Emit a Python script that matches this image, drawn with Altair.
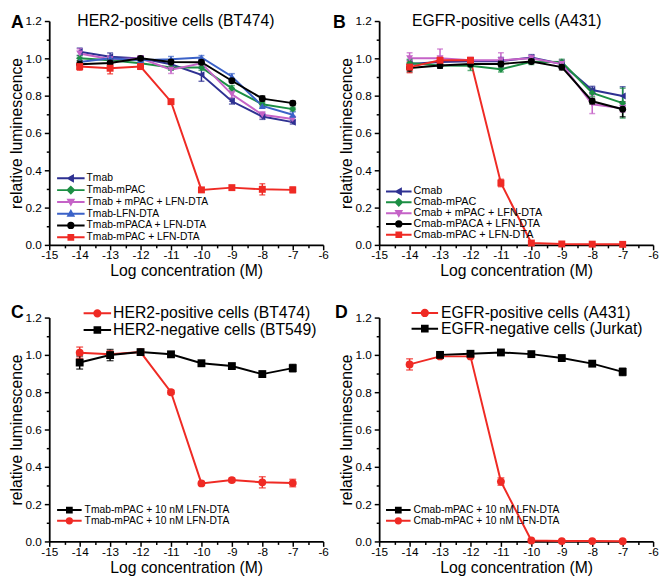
import altair as alt
import pandas as pd

FONT = "Liberation Sans"
CONC = [-14, -13, -12, -11, -10, -9, -8, -7]
X_MAJOR = [-15, -14, -13, -12, -11, -10, -9, -8, -7, -6]
X_MINOR = [-14.5, -13.5, -12.5, -11.5, -10.5, -9.5, -8.5, -7.5, -6.5]
Y_MAJOR = [0.0, 0.2, 0.4, 0.6, 0.8, 1.0, 1.2]
Y_MINOR = [0.1, 0.3, 0.5, 0.7, 0.9, 1.1]

NAVY, GREEN, PINK, BLUE, BLACK, RED = "#2e3192", "#1c8f44", "#c563c7", "#3b62c8", "#000000", "#ef2a24"

# ---------------- Panel A ----------------
A_TITLE = "HER2-positive cells (BT474)"
A_SERIES = ["Tmab", "Tmab-mPAC", "Tmab + mPAC + LFN-DTA", "Tmab-LFN-DTA",
            "Tmab-mPACA + LFN-DTA", "Tmab-mPAC + LFN-DTA"]
A_VALUES = [
    [1.035, 1.009, 1.000, 0.968, 0.912, 0.770, 0.688, 0.658],
    [1.000, 0.990, 0.974, 0.951, 0.951, 0.839, 0.754, 0.728],
    [1.026, 0.995, 1.000, 0.939, 0.974, 0.807, 0.698, 0.675],
    [0.980, 1.000, 0.990, 0.995, 1.005, 0.903, 0.745, 0.698],
    [0.968, 0.975, 1.000, 0.980, 0.979, 0.880, 0.784, 0.760],
    [0.956, 0.947, 0.956, 0.768, 0.295, 0.307, 0.298, 0.295],
]
A_ERRORS = [
    [0.020, 0.020, 0.010, 0.020, 0.035, 0.015, 0.015, 0.010],
    [0.015, 0.015, 0.010, 0.015, 0.015, 0.015, 0.010, 0.010],
    [0.025, 0.020, 0.010, 0.020, 0.015, 0.020, 0.015, 0.015],
    [0.020, 0.010, 0.010, 0.015, 0.010, 0.015, 0.010, 0.015],
    [0.020, 0.020, 0.010, 0.010, 0.010, 0.010, 0.015, 0.010],
    [0.020, 0.030, 0.010, 0.010, 0.010, 0.010, 0.030, 0.015],
]
A_COLORS = [NAVY, GREEN, PINK, BLUE, BLACK, RED]
A_SHAPES = ["triangle-left", "diamond", "triangle-down", "triangle-up", "circle", "square"]

# ---------------- Panel B ----------------
B_TITLE = "EGFR-positive cells (A431)"
B_SERIES = ["Cmab", "Cmab-mPAC", "Cmab + mPAC + LFN-DTA",
            "Cmab-mPACA + LFN-DTA", "Cmab-mPAC + LFN-DTA"]
B_VALUES = [
    [0.970, 0.980, 0.985, 0.985, 1.005, 0.970, 0.830, 0.798],
    [0.975, 0.962, 0.960, 0.942, 0.982, 0.980, 0.815, 0.760],
    [1.000, 1.000, 0.990, 0.990, 1.000, 0.970, 0.754, 0.732],
    [0.948, 0.962, 0.970, 0.970, 0.983, 0.953, 0.770, 0.727],
    [0.953, 0.990, 0.990, 0.332, 0.010, 0.005, 0.004, 0.003],
]
B_ERRORS = [
    [0.020, 0.020, 0.015, 0.020, 0.015, 0.020, 0.020, 0.050],
    [0.020, 0.015, 0.025, 0.015, 0.015, 0.015, 0.020, 0.080],
    [0.030, 0.050, 0.015, 0.040, 0.015, 0.020, 0.050, 0.020],
    [0.020, 0.015, 0.015, 0.015, 0.010, 0.015, 0.015, 0.040],
    [0.030, 0.015, 0.010, 0.020, 0.005, 0.004, 0.004, 0.004],
]
B_COLORS = [NAVY, GREEN, PINK, BLACK, RED]
B_SHAPES = ["triangle-left", "diamond", "triangle-down", "circle", "square"]

# ---------------- Panel C ----------------
C_SERIES = ["HER2-positive cells (BT474)", "HER2-negative cells (BT549)"]
C_VALUES = [
    [1.012, 1.003, 1.015, 0.800, 0.311, 0.329, 0.317, 0.313],
    [0.959, 0.999, 1.015, 1.003, 0.955, 0.940, 0.897, 0.929],
]
C_ERRORS = [
    [0.030, 0.020, 0.010, 0.010, 0.010, 0.010, 0.030, 0.020],
    [0.035, 0.030, 0.010, 0.010, 0.015, 0.010, 0.015, 0.020],
]
C_LABEL = "Tmab-mPAC + 10 nM LFN-DTA"

# ---------------- Panel D ----------------
D_SERIES = ["EGFR-positive cells (A431)", "EGFR-negative cells (Jurkat)"]
D_VALUES = [
    [0.949, 0.992, 0.992, 0.321, 0.005, 0.002, 0.002, 0.001],
    [None, 1.000, 1.006, 1.013, 1.004, 0.983, 0.953, 0.909],
]
D_ERRORS = [
    [0.030, 0.010, 0.010, 0.020, 0.005, 0.003, 0.003, 0.003],
    [None, 0.010, 0.010, 0.010, 0.010, 0.010, 0.010, 0.020],
]
D_LABEL = "Cmab-mPAC + 10 nM LFN-DTA"

PAIR_COLORS = [RED, BLACK]
PAIR_SHAPES = ["circle", "square"]


def long_df(series, values, errors):
    rows = []
    for s, vals, errs in zip(series, values, errors):
        for c, v, e in zip(CONC, vals, errs):
            if v is None:
                continue
            rows.append({"series": s, "conc": c, "value": v, "lo": v - e, "hi": v + e})
    return pd.DataFrame(rows)


def legend_path(shape, L, h):
    u = h / (L / 2.0)
    f = lambda v: f"{v:.3f}"
    line = "M-1,0H1"
    if shape == "circle":
        m = f"M{f(-u)},0A{f(u)},{f(u)} 0 1,0 {f(u)},0A{f(u)},{f(u)} 0 1,0 {f(-u)},0Z"
    elif shape == "square":
        s = u * 0.9
        m = f"M{f(-s)},{f(-s)}H{f(s)}V{f(s)}H{f(-s)}Z"
    elif shape == "diamond":
        d = u * 1.2
        m = f"M0,{f(-d)}L{f(d)},0L0,{f(d)}L{f(-d)},0Z"
    elif shape == "triangle-left":
        m = f"M{f(-u)},0L{f(u*0.8)},{f(-u)}L{f(u*0.8)},{f(u)}Z"
    elif shape == "triangle-down":
        m = f"M{f(-u)},{f(-u*0.8)}L{f(u)},{f(-u*0.8)}L0,{f(u)}Z"
    else:  # triangle-up
        m = f"M{f(-u)},{f(u*0.8)}L{f(u)},{f(u*0.8)}L0,{f(-u)}Z"
    return line + m


def legend_layer(order, colors, shapes, L, h, x, y, pitch, fsize, label_offset,
                 row_pad=0, label_expr=None):
    kw = dict(
        orient="none", legendX=x, legendY=y, title=None, direction="vertical",
        padding=0, symbolSize=L * L, symbolStrokeWidth=2, labelFontSize=fsize,
        labelFont=FONT, labelColor="black", labelOffset=label_offset,
        clipHeight=pitch, rowPadding=row_pad, labelLimit=400, labelBaseline="middle",
    )
    if label_expr is not None:
        kw["labelExpr"] = label_expr
    paths = [legend_path(s, L, h) for s in shapes]
    empty = pd.DataFrame({"series": pd.Series([], dtype=str)})
    return alt.Chart(empty).mark_point(filled=True, strokeWidth=2, size=L * L, opacity=1).encode(
        fill=alt.Fill("series:N", scale=alt.Scale(domain=order, range=colors), legend=alt.Legend(**kw)),
        stroke=alt.Stroke("series:N", scale=alt.Scale(domain=order, range=colors), legend=alt.Legend(**kw)),
        shape=alt.Shape("series:N", scale=alt.Scale(domain=order, range=paths), legend=alt.Legend(**kw)),
    )


AX = dict(domainColor="black", tickColor="black", domainWidth=1.8, tickWidth=1.5, grid=False)

X_MAJOR_AXIS = alt.Axis(orient="bottom", values=X_MAJOR, labelExpr="datum.value + ''",
                        tickSize=5, labelFontSize=12, labelFont=FONT, labelColor="black",
                        labelPadding=0, labelFlush=False, labelOverlap=False,
                        title="Log concentration (M)", titleFont=FONT, titleFontSize=16,
                        titleFontWeight="normal", titleColor="black", titleY=31.5,
                        titleBaseline="alphabetic", **AX)
Y_MAJOR_AXIS = alt.Axis(orient="left", values=Y_MAJOR, format=".1f", tickSize=5,
                        labelFontSize=12, labelFont=FONT, labelColor="black", labelPadding=3,
                        labelOverlap=False,
                        title="relative luminescence", titleFont=FONT, titleFontSize=16,
                        titleFontWeight="normal", titleColor="black", titleX=-28, titleY=114,
                        titleAngle=270, titleBaseline="alphabetic", titleAlign="center", **AX)
X_MINOR_AXIS = alt.Axis(orient="bottom", values=X_MINOR, labels=False, tickSize=3,
                        domain=False, title="", **AX)
Y_MINOR_AXIS = alt.Axis(orient="left", values=Y_MINOR, labels=False, tickSize=3,
                        domain=False, title="", **AX)

W, H = 279, 228


def panel(df, series, colors, shapes, msize, capsize, legends, texts):
    xs = alt.Scale(domain=[-15, -6], nice=False, zero=False)
    ys = alt.Scale(domain=[0, 1.2], nice=False, zero=False)

    def color():
        return alt.Color("series:N", scale=alt.Scale(domain=series, range=colors), legend=None)

    base = alt.Chart(df)
    lines = base.mark_line(strokeWidth=2).encode(
        x=alt.X("conc:Q", scale=xs, axis=X_MAJOR_AXIS),
        y=alt.Y("value:Q", scale=ys, axis=Y_MAJOR_AXIS),
        color=color(),
    )
    bars = base.mark_rule(strokeWidth=1.5).encode(
        x=alt.X("conc:Q", scale=xs, axis=None),
        y=alt.Y("lo:Q", scale=ys, axis=None), y2="hi:Q",
        color=color(),
    )
    cap_lo = base.mark_tick(orient="horizontal", size=capsize, thickness=1.5).encode(
        x=alt.X("conc:Q", scale=xs, axis=None),
        y=alt.Y("lo:Q", scale=ys, axis=None), color=color())
    cap_hi = base.mark_tick(orient="horizontal", size=capsize, thickness=1.5).encode(
        x=alt.X("conc:Q", scale=xs, axis=None),
        y=alt.Y("hi:Q", scale=ys, axis=None), color=color())
    points = base.mark_point(filled=True, size=msize, opacity=1).encode(
        x=alt.X("conc:Q", scale=xs, axis=X_MINOR_AXIS),
        y=alt.Y("value:Q", scale=ys, axis=Y_MINOR_AXIS),
        color=color(),
        shape=alt.Shape("series:N", scale=alt.Scale(domain=series, range=shapes), legend=None),
    )
    layers = [lines, bars, cap_lo, cap_hi, points] + legends
    for t, size, weight, align, px, py in texts:
        layers.append(
            alt.Chart(pd.DataFrame({"t": [t]})).mark_text(
                font=FONT, fontSize=size, fontWeight=weight, align=align,
                baseline="alphabetic", color="black"
            ).encode(x=alt.value(px), y=alt.value(py), text="t:N")
        )
    return alt.layer(*layers).resolve_scale(
        color="independent", fill="independent", stroke="independent", shape="independent"
    ).resolve_axis(x="independent", y="independent").properties(width=W, height=H)


dfA = long_df(A_SERIES, A_VALUES, A_ERRORS)
dfB = long_df(B_SERIES, B_VALUES, B_ERRORS)
dfC = long_df(C_SERIES, C_VALUES, C_ERRORS)
dfD = long_df(D_SERIES, D_VALUES, D_ERRORS)

pA = panel(dfA, A_SERIES, A_COLORS, A_SHAPES, 50, 6,
           [legend_layer(A_SERIES, A_COLORS, A_SHAPES, 28, 2.7, 7, 154.6, 11.2, 10.5, 1, -2.8)],
           [(A_TITLE, 16, "normal", "center", 129, 5.5), ("A", 18, "bold", "left", -39, 7)])
pB = panel(dfB, B_SERIES, B_COLORS, B_SHAPES, 50, 6,
           [legend_layer(B_SERIES, B_COLORS, B_SHAPES, 26, 2.7, 6, 168.2, 10.9, 11, 1, -1.8)],
           [(B_TITLE, 16, "normal", "center", 130, 5.5), ("B", 18, "bold", "left", -47, 7)])
pC = panel(dfC, C_SERIES, PAIR_COLORS, PAIR_SHAPES, 64, 7,
           [legend_layer(C_SERIES, PAIR_COLORS, PAIR_SHAPES, 28, 3.2, 34, -12.6, 16.6, 16, 1),
            legend_layer([C_SERIES[1], C_SERIES[0]], [BLACK, RED], ["square", "circle"],
                         25, 2.7, 7, 191, 10, 10.5, 2, -2, "'" + C_LABEL + "'")],
           [("C", 18, "bold", "left", -39, 0)])
pD = panel(dfD, D_SERIES, PAIR_COLORS, PAIR_SHAPES, 64, 7,
           [legend_layer(D_SERIES, PAIR_COLORS, PAIR_SHAPES, 27, 3.2, 32, -12.7, 16, 16, 2),
            legend_layer([D_SERIES[1], D_SERIES[0]], [BLACK, RED], ["square", "circle"],
                         25, 2.7, 6, 190.75, 10.5, 10.5, 2, -0.5, "'" + D_LABEL + "'")],
           [("D", 18, "bold", "left", -45, 0)])

RES = dict(color="independent", fill="independent", stroke="independent", shape="independent")
chart = alt.concat(pA, pB, pC, pD, columns=2, spacing={"row": 74, "column": 57},
                   bounds="flush", padding=0).resolve_scale(**RES).configure_view(
    stroke="transparent")

chart.save("out.html", embed_options={"renderer": "svg", "actions": False})
